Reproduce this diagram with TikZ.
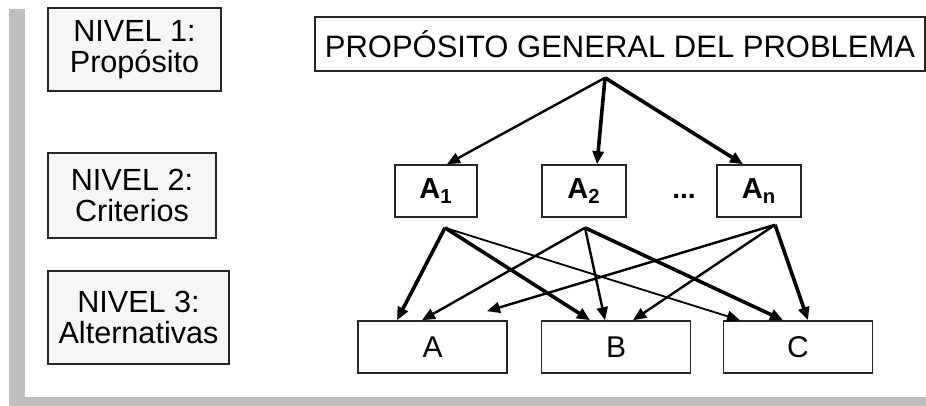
\documentclass[tikz,border=0pt]{standalone}
\usepackage{fontspec}
\setmainfont{Liberation Sans}
\usepackage{tikz}
\usetikzlibrary{positioning,calc,arrows.meta}

\definecolor{framegray}{RGB}{190,190,190}
\definecolor{boxfill}{RGB}{246,246,246}

\tikzset{
  levelbox/.style={draw=black!85, line width=0.8pt, fill=boxfill, align=center, inner sep=0pt,
    font=\fontsize{15.3}{15.5}\selectfont},
  titlebox/.style={draw=black!85, line width=0.8pt, minimum width=305pt, minimum height=27pt,
    font=\fontsize{15.5}{16}\selectfont},
  critbox/.style={draw=black!85, line width=0.8pt, minimum width=41pt, minimum height=26pt,
    font=\fontsize{14.5}{14.5}\selectfont\bfseries},
  altbox/.style={draw=black!85, line width=0.8pt, minimum width=74.5pt, minimum height=26pt,
    font=\fontsize{15}{15}\selectfont},
  arrheavy/.style={-{Triangle[length=6.5pt,width=5.5pt]}, line width=1.8pt},
  arrmid/.style={-{Triangle[length=6.5pt,width=5.5pt]}, line width=1.2pt},
  arrthin/.style={-{Triangle[length=6.5pt,width=5.5pt]}, line width=0.9pt},
}

\begin{document}
\begin{tikzpicture}[x=0.5pt, y=-0.5pt]
    \useasboundingbox (0,0) rectangle (926,406);
    % marco gris
    \fill[framegray] (9,9) rectangle (25,406);
    \fill[framegray] (9,397) rectangle (926,406);

    % niveles
    \node[levelbox, minimum width=86.5pt, minimum height=41.5pt] (n1) at (134.5,49.5) {NIVEL 1:\\Propósito};
    \node[levelbox, minimum width=84pt, minimum height=42.5pt] (n2) at (132,195.5) {NIVEL 2:\\Criterios};
    \node[levelbox, minimum width=90.5pt, minimum height=46.5pt] (n3) at (138.5,317.5) {NIVEL 3:\\Alternativas};

    \node[titlebox] (title) at (620,44) {PROPÓSITO GENERAL DEL PROBLEMA};

    % criterios
    \node[critbox] (a1) at (436,191) {A\textsubscript{1}};
    \node[critbox, minimum width=42pt] (a2) at (584,191) {A\textsubscript{2}};
    \node[critbox, minimum width=42pt] (an) at (759,191) {A\textsubscript{n}};
    \node[font=\fontsize{14}{14}\selectfont\bfseries] (dots) at (684,196) {...};

    % alternativas
    \node[altbox] (alta) at (432.5,347) {A};
    \node[altbox] (altb) at (616,347) {B};
    \node[altbox] (altc) at (798,347) {C};

    \coordinate (p0) at ($(title.south)+(-15,6)$);
    \coordinate (s1) at ($(a1.south)+(9,10)$);
    \coordinate (s2) at ($(a2.south)+(1,10)$);
    \coordinate (sn) at ($(an.south)+(16,7)$);
    \coordinate (free) at ($(alta.north)+(54.5,-9)$);

    % nivel 1 -> nivel 2
    \draw[arrmid] (p0) -- ($(a1.north)+(11,0)$);
    \draw[arrheavy] (p0) -- ($(a2.north)+(13,0)$);
    \draw[arrheavy] (p0) -- ($(an.north)+(-16,0)$);

    % nivel 2 -> nivel 3
    \draw[arrheavy] (s1) -- ($(alta.north)+(-35.5,0)$);
    \draw[arrheavy] (s1) -- ($(altb.north)+(-26,0)$);
    \draw[arrthin] (s1) -- ($(altc.north)+(-58,0)$);
    \draw[arrmid] (s2) -- ($(alta.north)+(-10.5,0)$);
    \draw[arrmid] (s2) -- ($(altb.north)+(-11,0)$);
    \draw[arrheavy] (s2) -- ($(altc.north)+(-15,0)$);
    \draw[arrmid] (sn) -- (free);
    \draw[arrmid] (sn) -- ($(altb.north)+(17,0)$);
    \draw[arrheavy] (sn) -- ($(altc.north)+(10,0)$);
\end{tikzpicture}
\end{document}
